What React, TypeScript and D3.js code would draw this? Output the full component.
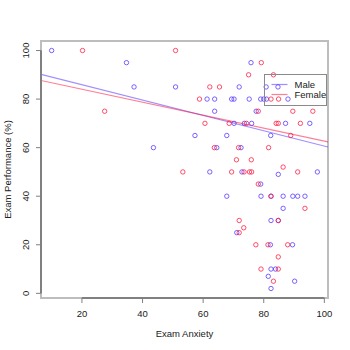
import React, { useEffect, useRef } from 'react';
import * as d3 from 'd3';

// anxiety / exam score
const maleAnxiety = [10.0, 34.7, 37.2, 50.9, 43.6, 75.8, 71.9, 80.8, 84.7,
  61.3, 63.8, 69.4, 70.2, 75.2, 79.0, 80.0, 80.9, 88.0,
  63.8, 77.5,
  70.2, 73.6, 76.0, 87.2, 95.2,
  57.3, 67.8, 82.3,
  64.5, 72.5,
  62.2, 72.8, 97.7, 84.8,
  79.0,
  67.8, 79.1, 82.4, 86.4, 89.6, 91.2, 93.6,
  86.4,
  82.4, 84.8,
  71.1,
  82.2, 89.5,
  82.4, 83.9,
  81.5, 90.2, 82.4];
const maleExam = [100, 95, 85, 85, 60, 95, 85, 85, 85,
  80, 80, 80, 80, 80, 80, 80, 80, 80,
  75, 75,
  70, 70, 70, 70, 70,
  65, 65, 65,
  60, 60,
  50, 50, 50, 49,
  45,
  40, 40, 40, 40, 40, 40, 40,
  35,
  30, 30,
  25,
  20, 20,
  10, 10,
  7, 5, 2];

const femaleAnxiety = [20.2, 50.9, 27.5, 53.3,
  79.2,
  75.0, 83.2,
  62.2, 65.4,
  58.8, 82.4, 84.9,
  78.2, 89.6, 96.2,
  60.6, 68.6, 74.3, 84.1, 84.8, 92.1,
  88.9,
  63.7, 71.7, 81.6,
  71.0, 75.9,
  86.4,
  69.4, 73.5, 75.3, 76.0, 91.2,
  78.2,
  82.4,
  93.6,
  71.9, 84.8,
  73.4,
  71.9,
  77.4, 81.4, 87.9,
  84.8,
  79.1, 84.8,
  83.2];
const femaleExam = [100, 100, 75, 50,
  95,
  90, 90,
  85, 85,
  80, 80, 80,
  75, 75, 75,
  70, 70, 70, 70, 70, 70,
  65,
  60, 60, 60,
  55, 55,
  52,
  50, 50, 50, 50, 50,
  45,
  40,
  35,
  30, 30,
  27,
  25,
  20, 20, 20,
  15,
  10, 10,
  5];

// fitted lines (intercept, slope)
const maleFit = [92.25, -0.316];
const femaleFit = [89.4, -0.267];

const groups = ['Male', 'Female'];
const xTicks = [20, 40, 60, 80, 100];
const yTicks = [0, 20, 40, 60, 80, 100];

const App = () => {
  const ref = useRef<SVGSVGElement>(null);

  useEffect(() => {
    const svg = d3.select(ref.current);
    svg.selectAll('*').remove();

    const width = 350;
    const height = 350;
    const box = { left: 41, right: 328, top: 41, bottom: 298 };
    const font = 'Liberation Sans, Arial, sans-serif';
    const colors = { Male: 'rgba(80,50,255,0.75)', Female: 'rgba(255,20,60,0.75)' };
    const lineColors = { Male: 'rgba(80,50,255,0.55)', Female: 'rgba(255,20,60,0.55)' };

    svg.attr('width', width).attr('height', height);

    const allX = maleAnxiety.concat(femaleAnxiety);
    const allY = maleExam.concat(femaleExam);
    const xe = d3.extent(allX) as [number, number];
    const ye = d3.extent(allY) as [number, number];
    const xp = (xe[1] - xe[0]) * 0.04;
    const yp = (ye[1] - ye[0]) * 0.04;

    const x = d3.scaleLinear().domain([xe[0] - xp, xe[1] + xp]).range([box.left, box.right]);
    const y = d3.scaleLinear().domain([ye[0] - yp, ye[1] + yp]).range([box.bottom, box.top]);

    svg.append('rect')
      .attr('width', width).attr('height', height).attr('fill', '#fff');

    // plot box
    svg.append('rect')
      .attr('x', box.left).attr('y', box.top)
      .attr('width', box.right - box.left).attr('height', box.bottom - box.top)
      .attr('fill', 'none').attr('stroke', '#bdbdbd').attr('stroke-width', 2);

    // regression lines
    const clip = svg.append('clipPath').attr('id', 'plotclip')
      .append('rect')
      .attr('x', box.left).attr('y', box.top)
      .attr('width', box.right - box.left).attr('height', box.bottom - box.top);

    const fits = [['Male', maleFit], ['Female', femaleFit]] as [string, number[]][];
    const xd = x.domain();
    fits.forEach(([g, f]) => {
      svg.append('line')
        .attr('clip-path', 'url(#plotclip)')
        .attr('x1', x(xd[0])).attr('y1', y(f[0] + f[1] * xd[0]))
        .attr('x2', x(xd[1])).attr('y2', y(f[0] + f[1] * xd[1]))
        .attr('stroke', lineColors[g]).attr('stroke-width', 1.2);
    });

    // points
    const drawPts = (xs: number[], ys: number[], c: string) => {
      svg.append('g').selectAll('circle')
        .data(xs)
        .enter()
        .append('circle')
        .attr('cx', d => x(d))
        .attr('cy', (d, i) => y(ys[i]))
        .attr('r', 2.2)
        .attr('fill', 'none')
        .attr('stroke', c)
        .attr('stroke-width', 1);
    };
    drawPts(maleAnxiety, maleExam, colors.Male);
    drawPts(femaleAnxiety, femaleExam, colors.Female);

    // axes
    const axisCol = '#808080';
    svg.append('line')
      .attr('x1', x(xTicks[0])).attr('x2', x(xTicks[xTicks.length - 1]))
      .attr('y1', box.bottom).attr('y2', box.bottom)
      .attr('stroke', axisCol).attr('stroke-width', 2);
    svg.append('line')
      .attr('y1', y(yTicks[0])).attr('y2', y(yTicks[yTicks.length - 1]))
      .attr('x1', box.left).attr('x2', box.left)
      .attr('stroke', axisCol).attr('stroke-width', 2);

    xTicks.forEach(t => {
      svg.append('line')
        .attr('x1', x(t)).attr('x2', x(t))
        .attr('y1', box.bottom).attr('y2', box.bottom + 5)
        .attr('stroke', axisCol).attr('stroke-width', 1);
      svg.append('text')
        .attr('x', x(t)).attr('y', 317)
        .attr('text-anchor', 'middle')
        .attr('font-family', font).attr('font-size', '9.5px')
        .attr('fill', '#222')
        .text(t);
    });

    yTicks.forEach(t => {
      svg.append('line')
        .attr('x1', box.left - 5).attr('x2', box.left)
        .attr('y1', y(t)).attr('y2', y(t))
        .attr('stroke', axisCol).attr('stroke-width', 1);
      svg.append('text')
        .attr('transform', `translate(29, ${y(t)}) rotate(-90)`)
        .attr('text-anchor', 'middle')
        .attr('font-family', font).attr('font-size', '9.5px')
        .attr('fill', '#222')
        .text(t);
    });

    // axis titles
    svg.append('text')
      .attr('x', (box.left + box.right) / 2).attr('y', 337)
      .attr('text-anchor', 'middle')
      .attr('font-family', font).attr('font-size', '9.5px')
      .attr('fill', '#222')
      .text('Exam Anxiety');

    svg.append('text')
      .attr('transform', `translate(11, ${(box.top + box.bottom) / 2}) rotate(-90)`)
      .attr('text-anchor', 'middle')
      .attr('font-family', font).attr('font-size', '9.5px')
      .attr('fill', '#222')
      .text('Exam Performance (%)');

    // legend
    const lg = svg.append('g').attr('transform', 'translate(264.5, 74.5)');
    lg.append('rect')
      .attr('width', 62).attr('height', 31)
      .attr('fill', 'none').attr('stroke', '#8a8a8a').attr('stroke-width', 1);
    groups.forEach((g, i) => {
      lg.append('line')
        .attr('x1', 7).attr('x2', 23)
        .attr('y1', 10 + i * 10).attr('y2', 10 + i * 10)
        .attr('stroke', lineColors[g]).attr('stroke-width', 1.2);
      lg.append('text')
        .attr('x', 30).attr('y', 10 + i * 10)
        .attr('dy', '0.35em')
        .attr('font-family', font).attr('font-size', '9.5px')
        .attr('fill', '#222')
        .text(g);
    });
  }, []);

  return <svg ref={ref} style={{ position: 'absolute', left: 0, top: 0 }}></svg>;
};

export default App;
